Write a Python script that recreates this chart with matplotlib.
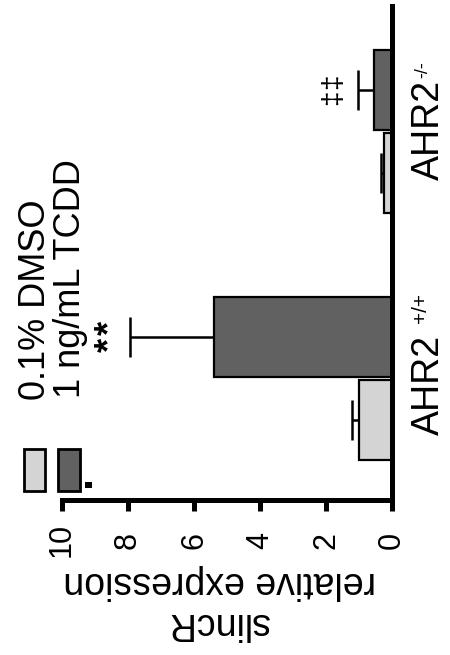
import numpy as np
import matplotlib.pyplot as plt
from matplotlib.patches import Rectangle

plt.rcParams['font.family'] = ['Liberation Sans', 'DejaVu Sans']

# data (chart is drawn rotated 90 deg, bars go right-to-left)
genotypes = ['AHR2', 'AHR2']
genotype_sup = ['+/+', '-/-']
treatments = ['0.1% DMSO', '1 ng/mL TCDD']
dmso_mean = [1.0, 0.25]
dmso_sem = [0.2, 0.08]
tcdd_mean = [5.4, 0.55]
tcdd_sem = [2.55, 0.48]
tcdd_marks = ['**', '‡‡']
value_ticks = [0, 2, 4, 6, 8, 10]

light = '#d4d4d4'
dark = '#616161'

W, H = 450, 655
def fx(px): return px / W           # pixel -> figure fraction
def fy(py): return 1 - py / H

fig = plt.figure(figsize=(4.5, 6.55), dpi=100)
ax = fig.add_axes([fx(62), fy(500), (392 - 62) / W, (500 - 6) / H])
ax.set_xlim(10, 0)
ax.set_ylim(0, 494 / 80)

group = np.arange(2) * 3.09 + 1.52
off = 0.52
ax.barh(group - off, dmso_mean, height=1.0, color=light, edgecolor='black', linewidth=1.6, zorder=2)
ax.barh(group + off, tcdd_mean, height=1.0, color=dark, edgecolor='black', linewidth=1.6, zorder=2)
ax.errorbar(dmso_mean, group - off, xerr=[np.zeros(2), dmso_sem], fmt='none', ecolor='black',
            elinewidth=1.8, capsize=14.4, capthick=1.8, zorder=1)
ax.errorbar(tcdd_mean, group + off, xerr=[np.zeros(2), tcdd_sem], fmt='none', ecolor='black',
            elinewidth=1.8, capsize=14.4, capthick=1.8, zorder=1)

# significance marks beyond TCDD error bars, one glyph at a time for spacing
gaps = [0.3, 0.55]
sizes = [26, 20]
weights = ['bold', 'normal']
spacing = [0.21, 0.2]
for i in range(2):
    for k, ch in enumerate(tcdd_marks[i]):
        ax.text(tcdd_mean[i] + tcdd_sem[i] + gaps[i], group[i] + off + (k - 0.5) * spacing[i] * -1, ch,
                rotation=90, rotation_mode='anchor', ha='center', va='baseline',
                fontsize=sizes[i], fontweight=weights[i])

# genotype labels right of the baseline (pixel positions)
main_start = [435, 180]
sup_start = [323, 78]
sup_base = [426, 427]
sup_size = [15, 13]
for i in range(2):
    fig.text(fx(439), fy(main_start[i]), genotypes[i], rotation=90, rotation_mode='anchor',
             ha='left', va='baseline', fontsize=27)
    fig.text(fx(sup_base[i]), fy(sup_start[i]), genotype_sup[i], rotation=90, rotation_mode='anchor',
             ha='left', va='baseline', fontsize=sup_size[i])

for s in ['left', 'top']:
    ax.spines[s].set_visible(False)
for s in ['right', 'bottom']:
    ax.spines[s].set_linewidth(3.6)
    ax.spines[s].set_capstyle('projecting')
ax.tick_params(axis='y', left=False, labelleft=False)
ax.set_xticks(value_ticks)
ax.set_xticklabels([str(t) for t in value_ticks], rotation=90, va='center', fontsize=22)
ax.tick_params(axis='x', length=8, width=3.6, pad=21)

# axis title (upside down)
fig.text(fx(220), fy(572), 'relative expression', rotation=180, rotation_mode='anchor',
         ha='center', va='baseline', fontsize=27)
fig.text(fx(218), fy(613), 'slincR', rotation=180, rotation_mode='anchor',
         ha='center', va='baseline', fontsize=27)

# legend
fig.add_artist(Rectangle((fx(24), fy(491)), 21 / W, 42 / H, transform=fig.transFigure,
                         facecolor=light, edgecolor='black', linewidth=2))
fig.add_artist(Rectangle((fx(58), fy(491)), 22 / W, 42 / H, transform=fig.transFigure,
                         facecolor=dark, edgecolor='black', linewidth=2))
fig.add_artist(Rectangle((fx(85), fy(488)), 7 / W, 6 / H, transform=fig.transFigure,
                         facecolor='black', edgecolor='none'))
fig.text(fx(45), fy(400), treatments[0], rotation=90, rotation_mode='anchor',
         ha='left', va='baseline', fontsize=26)
fig.text(fx(80), fy(398), treatments[1], rotation=90, rotation_mode='anchor',
         ha='left', va='baseline', fontsize=26)

fig.savefig('out.png', dpi=100)
